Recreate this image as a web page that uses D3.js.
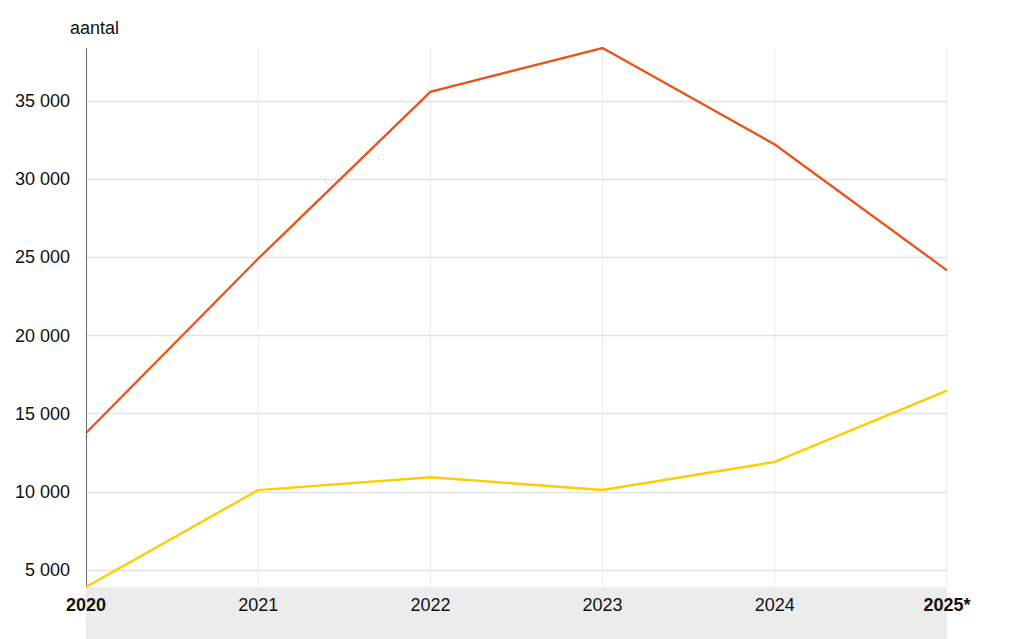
<!DOCTYPE html>
<html><head><meta charset="utf-8">
<script src="https://cdn.jsdelivr.net/npm/d3@7"></script>
<style>body{margin:0;background:#fff;} text{font-family:"Liberation Sans",Arial,sans-serif;}</style>
</head><body><svg id="c" width="1024" height="639"></svg>
<script>
const years = ["2020","2021","2022","2023","2024","2025*"];
const seriesOrange = [13750, 24900, 35570, 38370, 32200, 24150];
const seriesYellow = [3900, 10100, 10920, 10100, 11900, 16460];
const yTicks = [5000, 10000, 15000, 20000, 25000, 30000, 35000];
const yTitle = "aantal";

const svg = d3.select("#c");
const L = 86, R = 947, T = 48, B = 587;
const x = d3.scalePoint().domain(years).range([L, R]);
const allV = seriesOrange.concat(seriesYellow);
const y = d3.scaleLinear().domain([d3.min(allV), d3.max(allV)]).range([B, T]);
const fmt = v => d3.format(",")(v).replace(/,/g, " ");

// bottom gray band
svg.append("rect").attr("x", L).attr("y", B).attr("width", R - L).attr("height", 639 - B).attr("fill", "#ececec");

// vertical gridlines
svg.append("g").selectAll("line").data(years.slice(1)).join("line")
  .attr("x1", d => x(d)).attr("x2", d => x(d)).attr("y1", T).attr("y2", B)
  .attr("stroke", "#ececec").attr("stroke-width", 1);

// horizontal gridlines
svg.append("g").selectAll("line").data(yTicks).join("line")
  .attr("x1", L).attr("x2", R).attr("y1", d => Math.round(y(d)) + 0.5).attr("y2", d => Math.round(y(d)) + 0.5)
  .attr("stroke", "#e2e2e2").attr("stroke-width", 1.5);

// y tick labels
svg.append("g").selectAll("text").data(yTicks).join("text")
  .attr("x", 70).attr("y", d => y(d)).attr("dy", "0.35em").attr("text-anchor", "end")
  .attr("font-size", 18).attr("fill", "#111").text(d => fmt(d));

// y axis line
svg.append("line").attr("x1", L + 0.5).attr("x2", L + 0.5).attr("y1", T).attr("y2", B)
  .attr("stroke", "#666").attr("stroke-width", 1);

// y title
svg.append("text").attr("x", 70).attr("y", 34).attr("font-size", 18).attr("fill", "#111").text(yTitle);

// x labels
svg.append("g").selectAll("text").data(years).join("text")
  .attr("x", d => x(d)).attr("y", 611)
  .attr("text-anchor", "middle")
  .attr("font-size", 18).attr("font-weight", (d, i) => (i === 0 || i === years.length - 1) ? "bold" : "normal")
  .attr("fill", "#111").text(d => d);

const line = d3.line().x((d, i) => x(years[i])).y(d => y(d));
svg.append("path").datum(seriesYellow).attr("d", line).attr("fill", "none")
  .attr("stroke", "#ffcc00").attr("stroke-width", 2.4);
svg.append("path").datum(seriesOrange).attr("d", line).attr("fill", "none")
  .attr("stroke", "#e8561c").attr("stroke-width", 2.4);
</script></body></html>
